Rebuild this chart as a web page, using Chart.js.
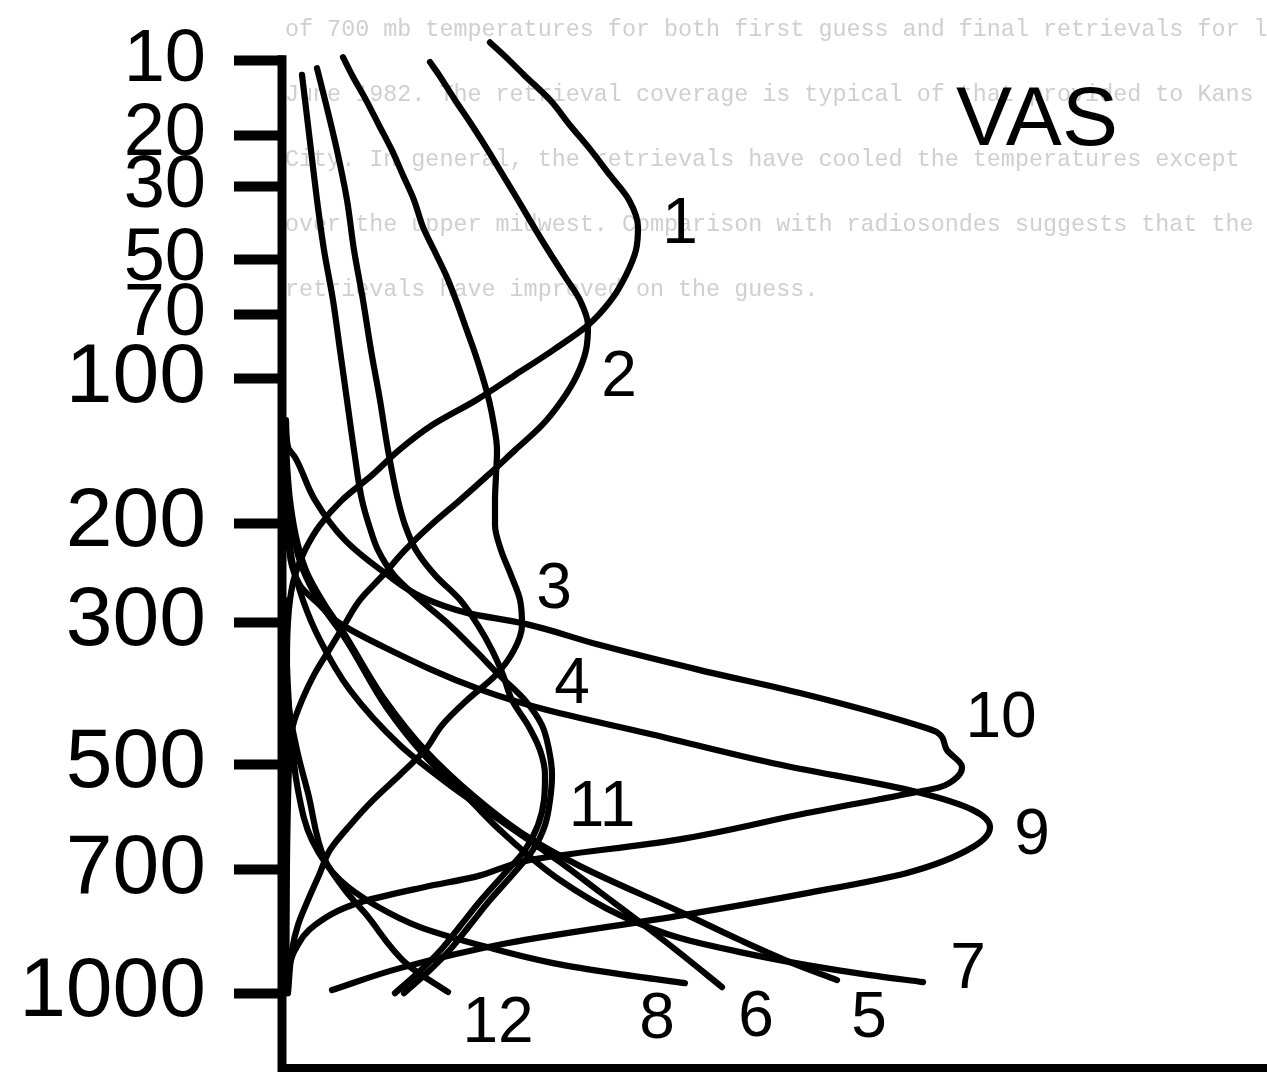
<!DOCTYPE html>
<html>
<head>
<meta charset="utf-8">
<script src="https://cdn.jsdelivr.net/npm/chart.js@4.4.1/dist/chart.umd.min.js"></script>
<style>
  html, body { margin: 0; padding: 0; background: #ffffff; }
  canvas { display: block; }
</style>
</head>
<body>
<canvas id="chart" width="1267" height="1083"></canvas>
<script>
// ---------------- DATA (pressure in mb, weighting value in arbitrary units) ----------------
const PRESSURE_TICKS = [10, 20, 30, 50, 70, 100, 200, 300, 500, 700, 1000];

const P1 = [8.3, 10, 11.6, 14.7, 18.4, 22.7, 27.6, 33.2, 40.2, 46.9, 55.1, 64.3, 74.5, 85.8, 98.2, 112, 127, 143.4, 161.3, 180.7, 201.7, 224.5, 249, 275, 334, 1000];
const W1 = [20.6, 22.5, 24.0, 26.6, 28.6, 30.7, 32.6, 34.5, 35.4, 35.2, 34.2, 32.7, 30.4, 26.9, 23.1, 19.2, 14.8, 11.5, 8.8, 5.8, 3.6, 2.1, 1.1, 0.6, 0.3, 0.2];

const P2 = [10.2, 11.6, 14.7, 18.4, 22.7, 27.6, 33.2, 40.2, 46.9, 55.1, 64.3, 74.5, 85.8, 98.2, 112, 127, 143.4, 161.3, 180.7, 201.7, 224.5, 249, 275, 304, 334, 366, 401, 438, 477, 563, 1000];
const W2 = [14.6, 15.5, 17.1, 18.8, 20.4, 21.9, 23.4, 25.0, 26.4, 28.0, 29.6, 30.4, 30.2, 29.3, 27.8, 25.8, 23.1, 20.4, 17.6, 14.7, 12.1, 9.9, 7.6, 6.0, 4.5, 3.0, 1.8, 0.9, 0.6, 0.4, 0.2];

const P3 = [9.7, 11.6, 14.7, 18.4, 22.7, 27.6, 33.2, 40.2, 46.9, 55.1, 64.3, 74.5, 85.8, 98.2, 112, 127, 143.4, 161.3, 180.7, 201.7, 224.5, 249, 275, 304, 334, 366, 401, 438, 477, 518, 563, 610, 659, 712, 767, 825, 886, 1000];
const W3 = [5.9, 6.8, 8.2, 9.5, 10.8, 11.9, 13.0, 13.9, 15.0, 16.2, 17.2, 18.1, 19.0, 19.8, 20.5, 21.0, 21.3, 21.2, 21.1, 21.1, 21.7, 22.7, 23.6, 23.8, 23.0, 21.2, 18.3, 15.8, 14.1, 11.6, 8.9, 6.6, 4.6, 3.5, 2.4, 1.4, 0.8, 0.4];

const P4 = [11.6, 14.7, 22.7, 33.2, 46.9, 64.3, 85.8, 112, 143.4, 180.7, 201.7, 224.5, 249, 275, 304, 334, 366, 401, 438, 477, 518, 563, 610, 659, 712, 767, 825, 886, 938, 1000];
const W4 = [1.8, 2.1, 2.7, 3.3, 4.0, 4.9, 5.6, 6.3, 7.0, 7.8, 8.5, 9.4, 11.0, 13.6, 16.6, 19.1, 21.5, 24.1, 25.8, 26.5, 26.8, 26.6, 26.1, 24.9, 22.8, 20.6, 18.6, 16.6, 14.6, 12.0];

const P5 = [130.1, 180.7, 219.9, 249.0, 280.9, 309.5, 400.9, 477.1, 557.6, 629.5, 692.6, 797.0, 861.7, 917.4, 964.6];
const W5 = [0.1, 0.6, 1.4, 2.4, 4.1, 5.8, 10.1, 14.1, 19.1, 24.1, 29.6, 39.9, 45.6, 50.6, 55.3];

const P6 = [172.7, 234.0, 275.4, 321.6, 386.9, 469.1, 536.2, 600.3, 684.1, 749.1, 818.2, 894.3, 983.5];
const W6 = [0.2, 0.8, 1.9, 3.6, 6.6, 11.6, 16.6, 21.6, 27.6, 31.6, 35.6, 39.6, 43.8];

const P7 = [136.6, 188.9, 229.3, 259.4, 289.8, 319.2, 412.5, 490.2, 563.0, 619.6, 722.6, 801.7, 856.8, 891.8, 925.2, 951.4, 970.0];
const W7 = [0.1, 0.6, 1.4, 2.6, 4.3, 6.1, 10.3, 14.3, 18.6, 21.6, 27.6, 33.6, 39.6, 45.6, 52.3, 58.6, 63.9];

const P8 = [297.8, 430.3, 544.9, 639.3, 722.6, 778.5, 830.1, 879.2, 920.0, 948.7, 972.7];
const W8 = [0.1, 0.6, 1.4, 2.8, 5.6, 9.1, 13.6, 20.3, 26.9, 33.6, 40.1];

const P9 = [150.4, 197.4, 259.4, 280.9, 297.8, 327.7, 386.9, 415.4, 450.3, 498.6, 548.4, 581.4, 613.5, 653.0, 707.0, 751.3, 801.6, 869.0, 933.0, 991.6];
const W9 = [0.1, 0.3, 1.6, 3.6, 5.1, 9.6, 19.8, 26.3, 36.3, 48.9, 63.3, 68.9, 70.6, 68.9, 62.3, 52.3, 39.9, 22.4, 11.6, 4.8];

const P10 = [123.9, 141.4, 148.3, 180.7, 215.2, 246.9, 272.1, 289.8, 301.3, 327.7, 359.7, 390.9, 442.7, 448.8, 477.1, 505.3, 522.3, 539.7, 548.4, 586.9, 639.3, 679.9, 715.6, 737.6, 773.6, 824.9, 886.7, 938.1];
const W10 = [0.2, 0.4, 1.1, 3.1, 6.1, 10.1, 13.8, 18.4, 23.8, 31.6, 41.6, 51.6, 64.3, 65.3, 66.3, 67.8, 67.3, 65.6, 63.3, 52.3, 39.1, 24.6, 19.1, 14.1, 7.4, 3.1, 1.1, 0.4];

const P11 = [10.85, 14.7, 22.7, 33.2, 46.9, 64.3, 85.8, 112, 143.4, 180.7, 201.7, 224.5, 249, 275, 304, 334, 366, 401, 438, 477, 518, 563, 610, 659, 712, 767, 825, 886, 938, 1000];
const W11 = [3.3, 4.1, 5.3, 6.3, 7.0, 7.9, 8.7, 9.6, 10.4, 11.4, 12.1, 13.2, 15.1, 17.6, 19.4, 20.8, 21.9, 22.8, 24.4, 25.6, 26.1, 26.0, 25.4, 24.1, 21.9, 19.7, 17.7, 15.7, 13.7, 11.1];

const P12 = [275.4, 400.9, 477.1, 550.3, 679.9, 744.6, 797.0, 925.2, 997.0];
const W12 = [0.1, 0.4, 1.3, 2.4, 4.1, 6.1, 8.1, 12.4, 16.4];

const CHANNEL_NAMES = ['1', '2', '3', '4', '5', '6', '7', '8', '9', '10', '11', '12'];
const CHANNEL_PRESSURES = [P1, P2, P3, P4, P5, P6, P7, P8, P9, P10, P11, P12];
const CHANNEL_WEIGHTS = [W1, W2, W3, W4, W5, W6, W7, W8, W9, W10, W11, W12];

// label anchors: [text, weight value, pressure]
const CURVE_LABELS = [
  ['1', 39.6, 39.7], ['2', 33.5, 99.9], ['3', 27.0, 264.6], ['4', 28.8, 380],
  ['11', 31.8, 578], ['10', 71.7, 428.8], ['9', 74.8, 631.4], ['7', 68.4, 938],
  ['5', 58.5, 1073], ['6', 47.2, 1070], ['8', 37.3, 1076], ['12', 21.4, 1088]
];
const TITLE_TEXT = 'VAS';
const TITLE_ANCHOR = [75.3, 17.9];

const BLEED_LINES = [
  'of 700 mb temperatures for both first guess and final retrievals for l',
  'June 1982. The retrieval coverage is typical of that provided to Kans',
  'City. In general, the retrievals have cooled the temperatures except',
  'over the upper midwest. Comparison with radiosondes suggests that the',
  'retrievals have improved on the guess.'
];

// ---------------- Custom pressure scale: p^(2/7) ----------------
const KAPPA = 2 / 7;
class PowerPressureScale extends Chart.Scale {
  static id = 'pressurePower';
  static defaults = {};
  parse(raw) { return +raw; }
  determineDataLimits() {
    const { min, max } = this.getUserBounds();
    this.min = min;
    this.max = max;
  }
  buildTicks() {
    return PRESSURE_TICKS.map(v => ({ value: v }));
  }
  getLabelForValue(v) { return String(v); }
  configure() {
    super.configure();
    this._tStart = Math.pow(this.min, KAPPA);
    this._tRange = Math.pow(this.max, KAPPA) - this._tStart;
  }
  getPixelForValue(v) {
    return this.getPixelForDecimal((Math.pow(v, KAPPA) - this._tStart) / this._tRange);
  }
  getValueForPixel(px) {
    return Math.pow(this.getDecimalForPixel(px) * this._tRange + this._tStart, 1 / KAPPA);
  }
}
Chart.register(PowerPressureScale);

const FONT = "'Liberation Sans', Arial, Helvetica, sans-serif";

const datasets = CHANNEL_NAMES.map((name, i) => ({
  label: 'Channel ' + name,
  data: CHANNEL_PRESSURES[i].map((p, j) => ({ x: CHANNEL_WEIGHTS[i][j], y: p })),
  borderColor: '#000000',
  borderWidth: 6.2,
  pointRadius: 0,
  fill: false,
  cubicInterpolationMode: 'monotone',
  borderCapStyle: 'round',
  borderJoinStyle: 'round'
}));

// ---------------- plugins ----------------
const backgroundPlugin = {
  id: 'paperBackground',
  beforeDraw(chart) {
    const ctx = chart.ctx;
    ctx.save();
    ctx.fillStyle = '#ffffff';
    ctx.fillRect(0, 0, chart.width, chart.height);
    ctx.fillStyle = '#cfcfcf';
    ctx.font = "23.4px 'Liberation Mono', 'DejaVu Sans Mono', monospace";
    ctx.textBaseline = 'middle';
    ctx.textAlign = 'left';
    BLEED_LINES.forEach((line, i) => ctx.fillText(line, 285, 30 + i * 65));
    ctx.restore();
  }
};

const yAxisLinePlugin = {
  id: 'yAxisLine',
  beforeDatasetsDraw(chart) {
    const { ctx, chartArea, scales } = chart;
    const y = scales.y;
    const top = y.getPixelForValue(PRESSURE_TICKS[0]) - 5;
    ctx.save();
    ctx.strokeStyle = '#000';
    ctx.lineWidth = 9;
    ctx.lineCap = 'butt';
    ctx.beginPath();
    ctx.moveTo(chartArea.left - 2, top);
    ctx.lineTo(chartArea.left - 2, chartArea.bottom + 4);
    ctx.stroke();
    ctx.restore();
  }
};

const labelsPlugin = {
  id: 'curveLabels',
  afterDatasetsDraw(chart) {
    const { ctx, scales } = chart;
    ctx.save();
    ctx.fillStyle = '#000';
    ctx.textAlign = 'center';
    ctx.textBaseline = 'middle';
    ctx.font = '64px ' + FONT;
    CURVE_LABELS.forEach(([t, w, p]) => {
      ctx.fillText(t, scales.x.getPixelForValue(w), scales.y.getPixelForValue(p));
    });
    ctx.font = '84px ' + FONT;
    ctx.fillText(TITLE_TEXT, scales.x.getPixelForValue(TITLE_ANCHOR[0]), scales.y.getPixelForValue(TITLE_ANCHOR[1]));
    ctx.restore();
  }
};

new Chart(document.getElementById('chart'), {
  type: 'line',
  data: { datasets },
  options: {
    indexAxis: 'y',
    responsive: false,
    animation: false,
    devicePixelRatio: 1,
    layout: { padding: { top: 39, bottom: 15, left: 0, right: 0 } },
    plugins: { legend: { display: false }, tooltip: { enabled: false } },
    elements: { point: { radius: 0 } },
    scales: {
      x: {
        type: 'linear',
        position: 'bottom',
        min: 0,
        max: 98.3,
        ticks: { display: false },
        grid: { display: false, drawTicks: false },
        border: { display: true, width: 8, color: '#000' },
        afterFit: s => { s.height = 0; }
      },
      y: {
        type: 'pressurePower',
        position: 'left',
        min: 8,
        max: 1221,
        reverse: true,
        ticks: {
          autoSkip: false,
          padding: 28,
          color: '#000',
          font: (c) => ({ family: FONT, size: (c.tick && c.tick.value < 100) ? 74 : 84 })
        },
        grid: {
          display: true,
          drawOnChartArea: false,
          drawTicks: true,
          tickLength: 50,
          tickWidth: 10,
          tickColor: '#000',
          color: '#000'
        },
        border: { display: false },
        afterFit: s => { s.width = 284; s.paddingTop = 0; s.paddingBottom = 0; }
      }
    }
  },
  plugins: [backgroundPlugin, yAxisLinePlugin, labelsPlugin]
});
</script>
</body>
</html>
